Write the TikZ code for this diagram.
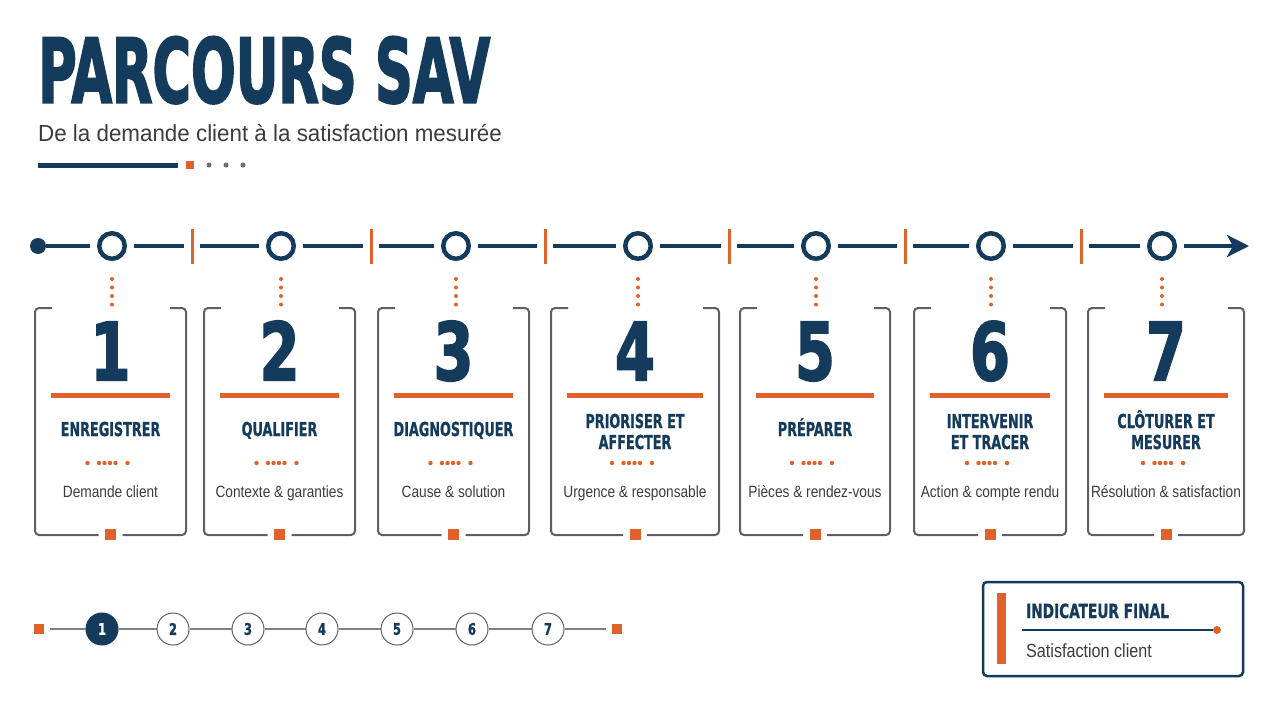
\documentclass[tikz,border=0pt]{standalone}
\usepackage{fontspec}
\usetikzlibrary{arrows.meta}
\setmainfont{Liberation Sans}
\newfontfamily\condb{DejaVu Sans Condensed Bold}[FakeBold=1]
\newfontfamily\condx{DejaVu Sans Condensed Bold}[FakeBold=2.5]
\definecolor{navy}{HTML}{143B5C}
\definecolor{org}{HTML}{E0612A}
\definecolor{frm}{HTML}{5C6066}
\definecolor{txt}{HTML}{3C3C3C}
\definecolor{dotg}{HTML}{6E6E6E}
\newcommand\sx[2]{\scalebox{#1}[1]{#2}}
\tikzset{
  tl/.style={draw=navy, line width=4pt},
  tick/.style={rectangle, fill=org, minimum width=3pt, minimum height=35pt, inner sep=0pt},
  ring/.style={circle, draw=navy, line width=4.5pt, fill=white, minimum size=25.5pt, inner sep=0pt},
  frame/.style={draw=frm, line width=2pt, rounded corners=4pt},
  sqr/.style={rectangle, fill=org, minimum size=11pt, inner sep=0pt},
  num/.style={anchor=base, inner sep=0pt, text=navy, font={\condx\fontsize{79.6}{80}\selectfont}},
  lab/.style={anchor=base, inner sep=0pt, text=navy, font={\condb\fontsize{19.2}{21}\selectfont}},
  desc/.style={anchor=base, inner sep=0pt, text=txt, font={\fontsize{16.3}{18}\selectfont}},
  stp/.style={circle, draw=frm, line width=1pt, fill=white, minimum size=32pt, inner sep=0pt, text=navy, font={\condb\fontsize{16}{18}\selectfont}},
  stpon/.style={stp, draw=navy, fill=navy, text=white},
  stl/.style={draw=frm!80, line width=1.2pt},
  ssq/.style={rectangle, fill=org, minimum size=10pt, inner sep=0pt}
}
\begin{document}
\begin{tikzpicture}[x=1pt,y=-1pt]
\useasboundingbox (0,0) rectangle (1280,720);
\fill[white] (0,0) rectangle (1280,720);

% title block
\node[anchor=south west, inner sep=0pt, text=navy] (title) at (38,104) {\resizebox{452pt}{66pt}{\condx PARCOURS SAV}};
\node[anchor=base west, inner sep=0pt, text=txt] (sub) at (38,141) {\fontsize{23.3}{26}\selectfont\sx{0.96}{De la demande client à la satisfaction mesurée}};
\draw[navy, line width=5pt] (38,165) -- (178,165);
\fill[org] (186,161) rectangle (194,169);
\foreach \xx in {209,226,243} \fill[dotg] (\xx,165) circle (2.5);

% timeline
\node[circle, fill=navy, minimum size=16pt, inner sep=0pt] (s0) at (38,246) {};
\foreach \i/\xx in {1/192,2/371,3/545,4/729,5/905,6/1081}
  \node[tick] (t\i) at (\xx,246) {};
\coordinate (tend) at (1249,246);

% cards
\foreach \n/\L/\R/\cc/\la/\lb/\ya/\d in {
1/35/186/112/ENREGISTRER//436/Demande client,
2/204/355/281/QUALIFIER//436/Contexte \& garanties,
3/378/529/456/DIAGNOSTIQUER//436/Cause \& solution,
4/551/719/638/PRIORISER ET/AFFECTER/428/Urgence \& responsable,
5/740/890/816/PRÉPARER//436/Pièces \& rendez-vous,
6/914/1066/991/INTERVENIR/ET TRACER/428/Action \& compte rendu,
7/1088/1244/1162/CLÔTURER ET/MESURER/428/Résolution \& satisfaction}
{
  \pgfmathsetmacro\C{(\L+\R)/2}
  \node[ring] (c\n) at (\cc,246) {};
  \foreach \yy in {279,287.5,296,304.5} \fill[org] (\cc,\yy) circle (2);
  \draw[frame] ({\L+17},308) -- (\L,308) -- (\L,535) -- ({\C-12},535);
  \draw[frame] ({\R-16},308) -- (\R,308) -- (\R,535) -- ({\C+12},535);
  \node[sqr] (sq\n) at (\C,534) {};
  \node[num] (n\n) at (\C,380) {\sx{0.8}{\n}};
  \draw[org, line width=5pt] ({\L+16},395) -- ({\R-16},395);
  \ifnum\ya=436
    \node[lab] (la\n) at (\C,436) {\sx{0.74}{\la}};
  \else
    \node[lab] (la\n) at (\C,428) {\sx{0.74}{\la}};
    \node[lab] (lb\n) at (\C,449) {\sx{0.74}{\lb}};
  \fi
  \foreach \o in {-21,-9.5,-4,1.5,7,19} \fill[org] ({\C-2+\o},463) circle (2.2);
  \node[desc] (d\n) at (\C,497) {\sx{0.84}{\d}};
}

\draw[tl, shorten >=7pt] (s0) -- (c1);
\foreach \i [evaluate=\i as \j using int(\i+1)] in {1,...,6} {
  \draw[tl, shorten <=7pt, shorten >=6pt] (c\i) -- (t\i);
  \draw[tl, shorten <=6pt, shorten >=7pt] (t\i) -- (c\j);
}
\draw[tl, shorten <=7pt, -{Stealth[length=22pt, width=22pt, inset=6pt]}] (c7) -- (tend);

% bottom stepper
\node[ssq] (sqL) at (39,629) {};
\node[ssq] (sqR) at (617,629) {};
\node[stpon] (st1) at (102,629) {\sx{0.8}{1}};
\foreach \i/\xx in {2/173,3/248,4/322,5/397,6/472,7/548}
  \node[stp] (st\i) at (\xx,629) {\sx{0.8}{\i}};
\draw[stl, shorten <=6pt] (sqL) -- (st1);
\foreach \i [evaluate=\i as \j using int(\i+1)] in {1,...,6}
  \draw[stl] (st\i) -- (st\j);
\draw[stl, shorten >=6pt] (st7) -- (sqR);

% indicator box
\node[draw=navy, line width=2.5pt, rounded corners=4pt, minimum width=260pt, minimum height=94pt, inner sep=0pt] (ind) at (1113,629) {};
\fill[org] (997,593) rectangle (1006,664);
\node[anchor=base west, inner sep=0pt, text=navy, font={\condb\fontsize{19.5}{21}\selectfont}] (indt) at (1026,618) {\sx{0.78}{INDICATEUR FINAL}};
\coordinate (indl) at (1022,630);
\node[circle, fill=org, minimum size=8pt, inner sep=0pt] (indd) at (1217,630) {};
\draw[navy, line width=2.2pt] (indl) -- (indd);
\node[anchor=base west, inner sep=0pt, text=txt, font={\fontsize{19}{21}\selectfont}] (inds) at (1026,657) {\sx{0.85}{Satisfaction client}};
\end{tikzpicture}
\end{document}
